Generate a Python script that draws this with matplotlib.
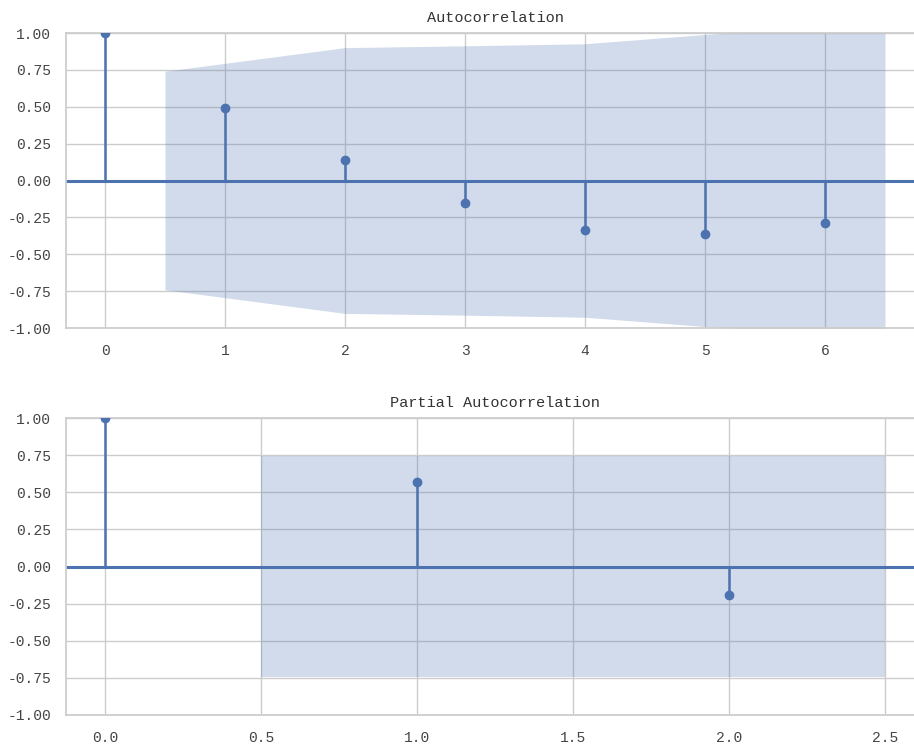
import matplotlib
matplotlib.use("Agg")
import matplotlib.pyplot as plt
import seaborn as sns

# acf / pacf values
acf_lags = [0, 1, 2, 3, 4, 5, 6]
acf_vals = [1.0, 0.49, 0.14, -0.155, -0.335, -0.365, -0.285]
acf_band_x = [0.5, 2, 3, 4, 5, 6.5]
acf_band = [0.741, 0.901, 0.913, 0.927, 0.990, 1.06]

pacf_lags = [0, 1, 2]
pacf_vals = [1.0, 0.57, -0.19]
pacf_band_x = [0.5, 2.5]
pacf_band = [0.741, 0.741]

sns.set_theme(style="whitegrid")
plt.rcParams['font.family'] = ['Liberation Mono', 'DejaVu Sans']
plt.rcParams['axes.unicode_minus'] = True

blue = "#4C72B0"


def stem_plot(ax, lags, vals, band_x, band, title):
    ax.axhline(0, color=blue, lw=2.2, zorder=2)
    ax.vlines(lags, 0, vals, color=blue, lw=1.8, zorder=3)
    ax.plot(lags, vals, 'o', color=blue, markersize=6, zorder=4)
    lo = [-b for b in band]
    ax.fill_between(band_x, lo, band, color=blue, alpha=0.25, lw=0, zorder=1)
    ax.set_ylim(-1, 1)
    ax.set_yticks([-1, -0.75, -0.5, -0.25, 0, 0.25, 0.5, 0.75, 1.0])
    ax.yaxis.set_major_formatter(matplotlib.ticker.FormatStrFormatter('%.2f'))
    ax.set_title(title, fontsize=11, pad=8, color='#333333')
    ax.tick_params(axis='y', labelsize=10.5, pad=4.5, labelcolor='#444444')
    ax.tick_params(axis='x', labelsize=10.5, pad=5.5, labelcolor='#444444')


fig = plt.figure(figsize=(9.14, 7.45), dpi=100)
ax1 = fig.add_axes([66 / 914, 1 - 328 / 745, 858 / 914, 295 / 745])
ax2 = fig.add_axes([66 / 914, 1 - 715 / 745, 858 / 914, 297 / 745])

stem_plot(ax1, acf_lags, acf_vals, acf_band_x, acf_band, "Autocorrelation")
ax1.set_xlim(-0.325, 6.825)

stem_plot(ax2, pacf_lags, pacf_vals, pacf_band_x, pacf_band, "Partial Autocorrelation")
ax2.set_xlim(-0.125, 2.625)
ax2.set_xticks([0, 0.5, 1.0, 1.5, 2.0, 2.5])

fig.savefig("out.png", dpi=100)
